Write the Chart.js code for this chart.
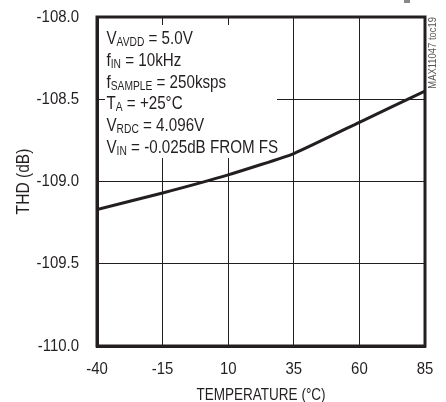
<!DOCTYPE html>
<html>
<head>
<meta charset="utf-8">
<script src="https://cdn.jsdelivr.net/npm/chart.js@4/dist/chart.umd.min.js"></script>
<style>
  html, body { margin: 0; padding: 0; background: #fff; }
  #wrap { width: 446px; height: 402px; position: relative; }
</style>
</head>
<body>
<div id="wrap"><canvas id="c" width="446" height="402"></canvas></div>
<script>
// ---- data ----
const temperatures = [-40, -15, 10, 35, 60, 85];
const thdValues = [-109.17, -109.07, -108.96, -108.83, -108.64, -108.45];
const xTickValues = [-40, -15, 10, 35, 60, 85];
const yTickValues = [-110.0, -109.5, -109.0, -108.5, -108.0];
const xTitle = 'TEMPERATURE (°C)';
const yTitle = 'THD (dB)';
const noteLines = [
  ['V', 'AVDD', ' = 5.0V'],
  ['f', 'IN', ' = 10kHz'],
  ['f', 'SAMPLE', ' = 250ksps'],
  ['T', 'A', ' = +25°C'],
  ['V', 'RDC', ' = 4.096V'],
  ['V', 'IN', ' = -0.025dB FROM FS']
];
const tocLabel = 'MAX11047 toc19';

const FONT = '"Liberation Sans", Arial, sans-serif';
const INK = '#231f20';
// horizontal condensing to mimic a narrow Helvetica
function narrowFactor(font) {
  return font.indexOf('17px') >= 0 ? 0.88 : 0.82;
}

const narrowTextPlugin = {
  id: 'narrowText',
  beforeInit(chart) {
    const ctx = chart.ctx;
    const origFill = ctx.fillText.bind(ctx);
    const origMeasure = ctx.measureText.bind(ctx);
    ctx.fillText = function (text, x, y, maxWidth) {
      const k = narrowFactor(ctx.font);
      ctx.save();
      ctx.translate(x, y);
      ctx.scale(k, 1);
      if (maxWidth !== undefined) origFill(text, 0, 0, maxWidth / k);
      else origFill(text, 0, 0);
      ctx.restore();
    };
    ctx.measureText = function (text) {
      const k = narrowFactor(ctx.font);
      const m = origMeasure(text);
      return {
        width: m.width * k,
        actualBoundingBoxAscent: m.actualBoundingBoxAscent,
        actualBoundingBoxDescent: m.actualBoundingBoxDescent,
        actualBoundingBoxLeft: m.actualBoundingBoxLeft * k,
        actualBoundingBoxRight: m.actualBoundingBoxRight * k
      };
    };
  }
};

const decorPlugin = {
  id: 'decor',
  beforeDatasetsDraw(chart) {
    const ctx = chart.ctx;
    const a = chart.chartArea;
    ctx.save();
    // white box behind the notes
    ctx.fillStyle = '#fff';
    ctx.fillRect(a.left + 8, a.top + 8, 172, 133);
    // notes
    ctx.fillStyle = INK;
    ctx.textBaseline = 'alphabetic';
    ctx.textAlign = 'left';
    let y = a.top + 27;
    for (const [main, sub, rest] of noteLines) {
      let x = a.left + 9.5;
      ctx.font = '18.5px ' + FONT;
      ctx.fillText(main, x, y);
      x += ctx.measureText(main).width;
      ctx.font = '12.5px ' + FONT;
      ctx.fillText(sub, x, y + 2);
      x += ctx.measureText(sub).width;
      ctx.font = '18.5px ' + FONT;
      ctx.fillText(rest, x, y);
      y += 21.8;
    }
    // frame
    ctx.strokeStyle = INK;
    ctx.lineWidth = 3;
    ctx.strokeRect(a.left, a.top, a.right - a.left, a.bottom - a.top);
    ctx.restore();
  },
  afterDraw(chart) {
    const ctx = chart.ctx;
    const a = chart.chartArea;
    ctx.save();
    // rotated figure id
    ctx.translate(a.right + 8, a.top);
    ctx.rotate(-Math.PI / 2);
    ctx.fillStyle = '#555';
    ctx.font = '11.5px ' + FONT;
    ctx.textAlign = 'right';
    ctx.textBaseline = 'middle';
    ctx.fillText(tocLabel, 0, 0);
    ctx.restore();
    ctx.save();
    ctx.fillStyle = '#888';
    ctx.fillRect(404, 0, 6, 3);
    ctx.restore();
  }
};

new Chart(document.getElementById('c'), {
  type: 'line',
  data: {
    datasets: [{
      data: temperatures.map((t, i) => ({ x: t, y: thdValues[i] })),
      borderColor: INK,
      borderWidth: 3,
      pointRadius: 0,
      tension: 0.15,
      fill: false
    }]
  },
  options: {
    responsive: false,
    animation: false,
    devicePixelRatio: 1,
    layout: { padding: { left: 0, right: 21, top: 17, bottom: 0 } },
    plugins: { legend: { display: false }, tooltip: { enabled: false } },
    scales: {
      x: {
        type: 'linear',
        min: -40,
        max: 85,
        afterBuildTicks: s => { s.ticks = xTickValues.map(v => ({ value: v })); },
        afterFit: s => { s.height = 56; s.paddingLeft = 0; s.paddingRight = 0; },
        grid: { color: INK, lineWidth: 1, drawTicks: false },
        border: { display: true, color: INK, width: 3 },
        ticks: {
          color: INK,
          padding: 13,
          font: { family: FONT, size: 17 },
          maxRotation: 0,
          callback: v => String(v)
        },
        title: {
          display: true,
          text: xTitle,
          color: INK,
          font: { family: FONT, size: 16.5, lineHeight: 0.85 },
          padding: 0
        }
      },
      y: {
        type: 'linear',
        min: -110,
        max: -108,
        afterBuildTicks: s => { s.ticks = yTickValues.map(v => ({ value: v })); },
        afterFit: s => { s.width = 97; s.paddingTop = 0; s.paddingBottom = 0; },
        grid: { color: INK, lineWidth: 1, drawTicks: false },
        border: { display: true, color: INK, width: 3 },
        ticks: {
          color: INK,
          padding: 18,
          font: { family: FONT, size: 17 },
          callback: v => Number(v).toFixed(1)
        },
        title: {
          display: true,
          text: yTitle,
          color: INK,
          font: { family: FONT, size: 19, lineHeight: 1.2 },
          padding: { top: 12.3, bottom: 0 }
        }
      }
    }
  },
  plugins: [narrowTextPlugin, decorPlugin]
});
</script>
</body>
</html>
